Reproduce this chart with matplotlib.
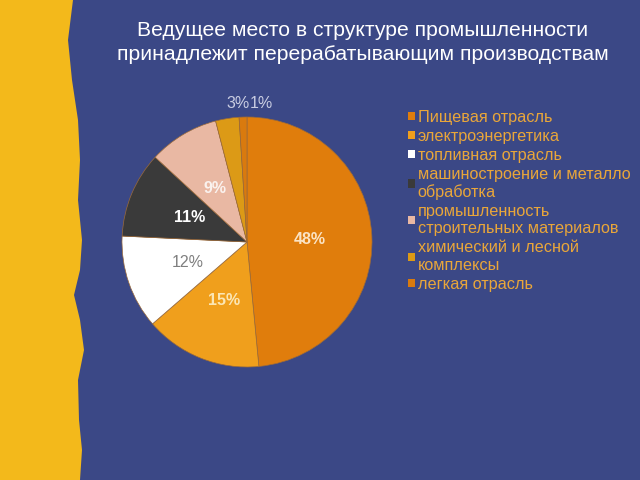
import matplotlib
matplotlib.use("Agg")
import matplotlib.pyplot as plt
from matplotlib.patches import Polygon

plt.rcParams['font.family'] = ['Liberation Sans', 'DejaVu Sans']

categories = ["Пищевая отрасль", "электроэнергетика", "топливная отрасль",
              "машиностроение и металло\nобработка",
              "промышленность\nстроительных материалов",
              "химический и лесной\nкомплексы", "легкая отрасль"]
values = [48, 15, 12, 11, 9, 3, 1]
pct_labels = ["48%", "15%", "12%", "11%", "9%", "3%", "1%"]
colors = ["#E07D0C", "#F09F1C", "#FFFFFF", "#3A3A3A", "#E9B8A3", "#DC9A16", "#D97A0E"]
label_colors = ["#FBE3C4", "#FBE6B4", "#7F7F7F", "#FFFFFF", "#FAF2EE", "#C9CDE2", "#C9CDE2"]
label_bold = [True, True, False, True, True, False, False]

title = "Ведущее место в структуре промышленности\nпринадлежит перерабатывающим производствам"

navy = "#3B4886"
yellow = "#F3B91B"

fig = plt.figure(figsize=(6.4, 4.8), dpi=100)
fig.patch.set_facecolor(navy)

# yellow torn strip on the left
W, H = 640.0, 480.0
edge = [(73, 0), (68, 40), (72, 80), (78, 120), (80, 160), (78, 200), (82, 240),
        (80, 270), (74, 295), (80, 320), (84, 350), (78, 380), (79, 420), (82, 450), (80, 480)]
pts = [(0, 0)] + edge + [(0, 480)]
poly = Polygon([(x / W, 1 - y / H) for x, y in pts], closed=True,
               transform=fig.transFigure, facecolor=yellow, edgecolor='none', zorder=0)
fig.patches.append(poly)

fig.text(363 / W, 1 - 42.5 / H, title, ha='center', va='center', color='white',
         fontsize=15.2, linespacing=1.4)

cx, cy, r = 247, 242, 125
ax = fig.add_axes([(cx - r) / W, 1 - (cy + r) / H, 2 * r / W, 2 * r / H])
ax.set_facecolor('none')
wedges, texts = ax.pie(values, colors=colors, startangle=90, counterclock=False,
                       radius=1.0, labels=pct_labels, labeldistance=0.5,
                       wedgeprops=dict(edgecolor='#9A6A3A', linewidth=0.5))
for i, t in enumerate(texts):
    t.set_color(label_colors[i])
    t.set_fontsize(11.5)
    t.set_fontweight('bold' if label_bold[i] else 'normal')
    t.set_ha('center')
    t.set_va('center')
# small slices labelled outside
texts[5].set_position((0.02, 1.11)); texts[5].set_ha('right')
texts[6].set_position((0.02, 1.11)); texts[6].set_ha('left')
ax.set_xlim(-1, 1)
ax.set_ylim(-1, 1)
ax.set_aspect('equal')

leg = fig.legend(wedges, categories, loc='upper left',
                 bbox_to_anchor=(408 / W, 1 - 110 / H), frameon=False,
                 handlelength=0.4, handleheight=0.4, handletextpad=0.2,
                 labelspacing=0.24, fontsize=11.7, labelcolor='#E9A63A',
                 borderpad=0, borderaxespad=0)
for h in leg.legend_handles:
    h.set_edgecolor('none')

fig.savefig("out.png", dpi=100, facecolor=fig.get_facecolor())
